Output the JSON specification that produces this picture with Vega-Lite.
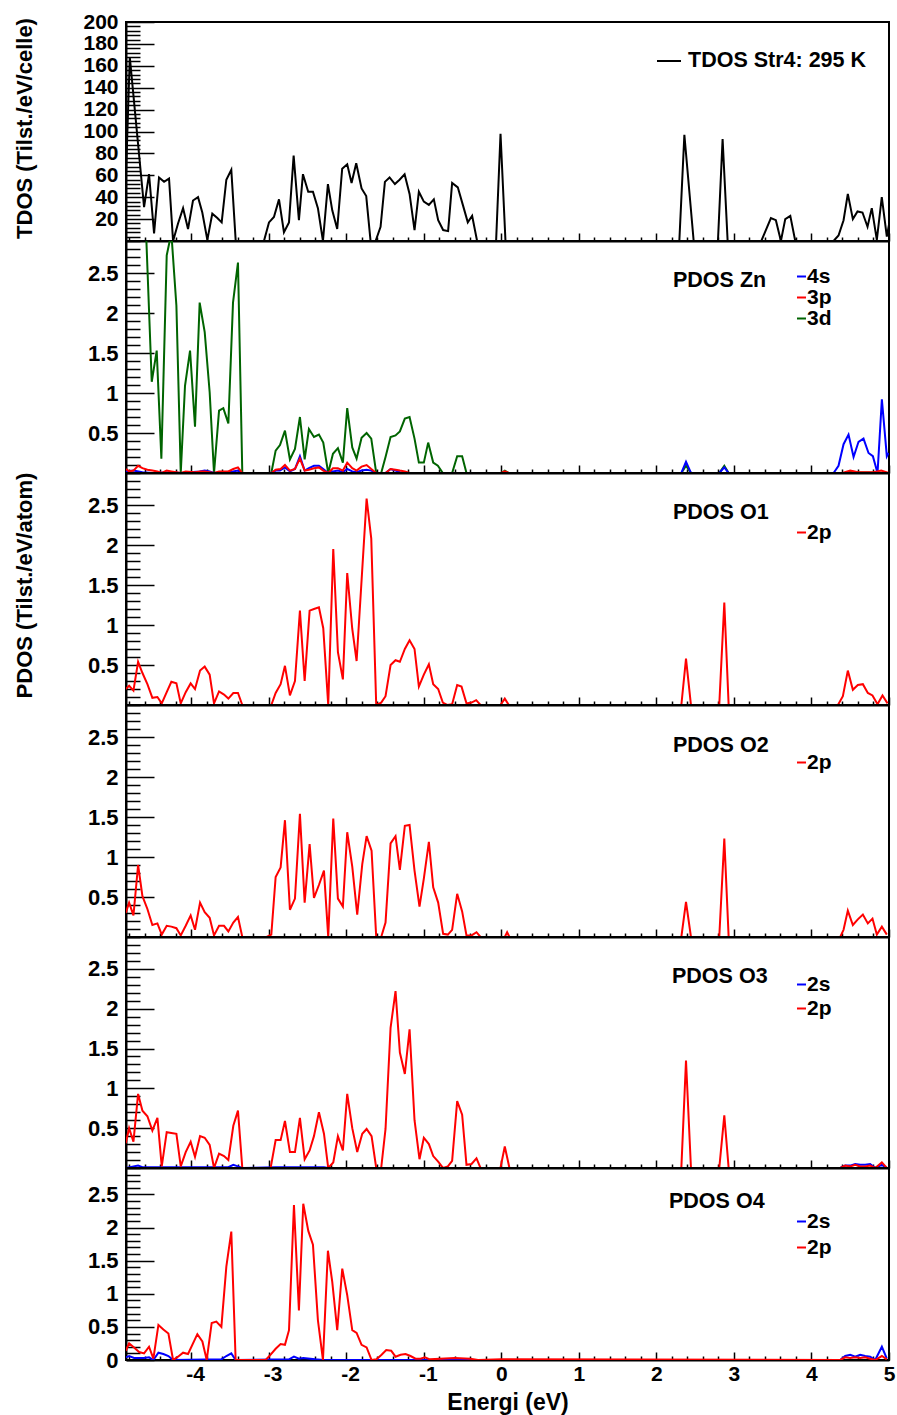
{
"$schema": "https://vega.github.io/schema/vega-lite/v6.json",
"padding": {"left": 11, "top": 10, "right": 5, "bottom": 2},
"background": "white",
"datasets": {
"tdos": [
{"o":"T","x":-4.84,"y":60},{"o":"T","x":-4.791,"y":168},{"o":"T","x":-4.607,"y":31},{"o":"T","x":-4.543,"y":61},{"o":"T","x":-4.478,"y":7},{"o":"T","x":-4.414,"y":58},{"o":"T","x":-4.349,"y":54},{"o":"T","x":-4.285,"y":57},{"o":"T","x":-4.233,"y":0},{"o":"T","x":-4.169,"y":16},{"o":"T","x":-4.104,"y":30},{"o":"T","x":-4.04,"y":11},{"o":"T","x":-3.976,"y":37},{"o":"T","x":-3.911,"y":40},{"o":"T","x":-3.856,"y":26},{"o":"T","x":-3.791,"y":1},{"o":"T","x":-3.727,"y":25},{"o":"T","x":-3.662,"y":21},{"o":"T","x":-3.606,"y":17},{"o":"T","x":-3.546,"y":56},{"o":"T","x":-3.482,"y":65},{"o":"T","x":-3.425,"y":0},{"o":"T","x":-3.061,"y":0},{"o":"T","x":-2.996,"y":17},{"o":"T","x":-2.932,"y":22},{"o":"T","x":-2.867,"y":38},{"o":"T","x":-2.803,"y":8},{"o":"T","x":-2.738,"y":17},{"o":"T","x":-2.678,"y":78},{"o":"T","x":-2.61,"y":19},{"o":"T","x":-2.558,"y":61},{"o":"T","x":-2.49,"y":45},{"o":"T","x":-2.429,"y":45},{"o":"T","x":-2.365,"y":30},{"o":"T","x":-2.3,"y":0},{"o":"T","x":-2.236,"y":52},{"o":"T","x":-2.18,"y":28},{"o":"T","x":-2.116,"y":11},{"o":"T","x":-2.052,"y":66},{"o":"T","x":-1.987,"y":70},{"o":"T","x":-1.931,"y":53},{"o":"T","x":-1.871,"y":71},{"o":"T","x":-1.802,"y":48},{"o":"T","x":-1.742,"y":41},{"o":"T","x":-1.686,"y":0},{"o":"T","x":-1.621,"y":0},{"o":"T","x":-1.557,"y":13},{"o":"T","x":-1.501,"y":54},{"o":"T","x":-1.441,"y":58},{"o":"T","x":-1.372,"y":52},{"o":"T","x":-1.312,"y":56},{"o":"T","x":-1.247,"y":61},{"o":"T","x":-1.183,"y":43},{"o":"T","x":-1.119,"y":10},{"o":"T","x":-1.063,"y":45},{"o":"T","x":-0.999,"y":36},{"o":"T","x":-0.934,"y":33},{"o":"T","x":-0.87,"y":38},{"o":"T","x":-0.814,"y":19},{"o":"T","x":-0.75,"y":10},{"o":"T","x":-0.686,"y":9},{"o":"T","x":-0.634,"y":53},{"o":"T","x":-0.561,"y":49},{"o":"T","x":-0.496,"y":33},{"o":"T","x":-0.432,"y":17},{"o":"T","x":-0.376,"y":23},{"o":"T","x":-0.312,"y":0},{"o":"T","x":-0.067,"y":0},{"o":"T","x":-0.01,"y":98},{"o":"T","x":0.054,"y":0},{"o":"T","x":2.296,"y":0},{"o":"T","x":2.361,"y":97},{"o":"T","x":2.481,"y":0},{"o":"T","x":2.794,"y":0},{"o":"T","x":2.854,"y":93},{"o":"T","x":2.919,"y":0},{"o":"T","x":3.353,"y":0},{"o":"T","x":3.477,"y":21},{"o":"T","x":3.541,"y":19},{"o":"T","x":3.606,"y":0},{"o":"T","x":3.662,"y":20},{"o":"T","x":3.727,"y":23},{"o":"T","x":3.791,"y":0},{"o":"T","x":4.285,"y":0},{"o":"T","x":4.349,"y":5},{"o":"T","x":4.414,"y":19},{"o":"T","x":4.469,"y":43},{"o":"T","x":4.534,"y":20},{"o":"T","x":4.594,"y":27},{"o":"T","x":4.658,"y":26},{"o":"T","x":4.723,"y":13},{"o":"T","x":4.778,"y":30},{"o":"T","x":4.843,"y":1},{"o":"T","x":4.907,"y":40},{"o":"T","x":4.972,"y":4},{"o":"T","x":5.0,"y":15}
],
"zn": [
{"o":"3d","x":-4.84,"y":4},{"o":"3d","x":-4.62,"y":4},{"o":"3d","x":-4.508,"y":1.14},{"o":"3d","x":-4.444,"y":1.53},{"o":"3d","x":-4.384,"y":0.18},{"o":"3d","x":-4.315,"y":2.72},{"o":"3d","x":-4.255,"y":3.0},{"o":"3d","x":-4.19,"y":2.09},{"o":"3d","x":-4.134,"y":0},{"o":"3d","x":-4.079,"y":1.09},{"o":"3d","x":-4.014,"y":1.53},{"o":"3d","x":-3.95,"y":0.58},{"o":"3d","x":-3.89,"y":2.13},{"o":"3d","x":-3.825,"y":1.76},{"o":"3d","x":-3.761,"y":1.01},{"o":"3d","x":-3.705,"y":0},{"o":"3d","x":-3.64,"y":0.78},{"o":"3d","x":-3.585,"y":0.81},{"o":"3d","x":-3.52,"y":0.62},{"o":"3d","x":-3.46,"y":2.13},{"o":"3d","x":-3.396,"y":2.63},{"o":"3d","x":-3.34,"y":0},{"o":"3d","x":-2.966,"y":0},{"o":"3d","x":-2.91,"y":0.28},{"o":"3d","x":-2.854,"y":0.35},{"o":"3d","x":-2.79,"y":0.53},{"o":"3d","x":-2.726,"y":0.17},{"o":"3d","x":-2.661,"y":0.3},{"o":"3d","x":-2.597,"y":0.7},{"o":"3d","x":-2.536,"y":0.17},{"o":"3d","x":-2.481,"y":0.55},{"o":"3d","x":-2.416,"y":0.45},{"o":"3d","x":-2.352,"y":0.48},{"o":"3d","x":-2.296,"y":0.38},{"o":"3d","x":-2.232,"y":0},{"o":"3d","x":-2.171,"y":0.24},{"o":"3d","x":-2.107,"y":0.31},{"o":"3d","x":-2.043,"y":0.13},{"o":"3d","x":-1.987,"y":0.81},{"o":"3d","x":-1.922,"y":0.32},{"o":"3d","x":-1.866,"y":0.18},{"o":"3d","x":-1.802,"y":0.44},{"o":"3d","x":-1.737,"y":0.5},{"o":"3d","x":-1.677,"y":0.43},{"o":"3d","x":-1.613,"y":0},{"o":"3d","x":-1.549,"y":0},{"o":"3d","x":-1.493,"y":0.2},{"o":"3d","x":-1.428,"y":0.45},{"o":"3d","x":-1.364,"y":0.47},{"o":"3d","x":-1.308,"y":0.52},{"o":"3d","x":-1.244,"y":0.68},{"o":"3d","x":-1.183,"y":0.7},{"o":"3d","x":-1.119,"y":0.43},{"o":"3d","x":-1.063,"y":0.13},{"o":"3d","x":-0.999,"y":0.13},{"o":"3d","x":-0.943,"y":0.38},{"o":"3d","x":-0.878,"y":0.13},{"o":"3d","x":-0.818,"y":0.09},{"o":"3d","x":-0.754,"y":0},{"o":"3d","x":-0.634,"y":0},{"o":"3d","x":-0.569,"y":0.21},{"o":"3d","x":-0.505,"y":0.21},{"o":"3d","x":-0.449,"y":0},{"o":"3d","x":0.0,"y":0},{"o":"3d","x":0.045,"y":0.03},{"o":"3d","x":0.097,"y":0},{"o":"3d","x":2.322,"y":0},{"o":"3d","x":2.382,"y":0.09},{"o":"3d","x":2.446,"y":0},{"o":"3d","x":2.811,"y":0},{"o":"3d","x":2.876,"y":0.09},{"o":"3d","x":2.932,"y":0},{"o":"3d","x":4.435,"y":0},{"o":"3d","x":4.5,"y":0.02},{"o":"3d","x":4.6,"y":0.01},{"o":"3d","x":5.0,"y":0},
{"o":"4s","x":-4.84,"y":0.02},{"o":"4s","x":-4.744,"y":0.03},{"o":"4s","x":-4.628,"y":0.01},{"o":"4s","x":-4.5,"y":0},{"o":"4s","x":-4.255,"y":0.01},{"o":"4s","x":-4.134,"y":0},{"o":"4s","x":-3.89,"y":0.02},{"o":"4s","x":-3.825,"y":0.03},{"o":"4s","x":-3.761,"y":0.02},{"o":"4s","x":-3.705,"y":0},{"o":"4s","x":-3.46,"y":0.02},{"o":"4s","x":-3.396,"y":0.03},{"o":"4s","x":-3.34,"y":0},{"o":"4s","x":-2.966,"y":0},{"o":"4s","x":-2.91,"y":0.03},{"o":"4s","x":-2.854,"y":0.03},{"o":"4s","x":-2.79,"y":0.07},{"o":"4s","x":-2.726,"y":0.02},{"o":"4s","x":-2.661,"y":0.05},{"o":"4s","x":-2.597,"y":0.21},{"o":"4s","x":-2.536,"y":0.03},{"o":"4s","x":-2.481,"y":0.06},{"o":"4s","x":-2.416,"y":0.09},{"o":"4s","x":-2.352,"y":0.09},{"o":"4s","x":-2.296,"y":0.05},{"o":"4s","x":-2.232,"y":0},{"o":"4s","x":-2.171,"y":0.02},{"o":"4s","x":-2.107,"y":0.03},{"o":"4s","x":-2.043,"y":0.01},{"o":"4s","x":-1.987,"y":0.05},{"o":"4s","x":-1.922,"y":0.02},{"o":"4s","x":-1.866,"y":0.01},{"o":"4s","x":-1.802,"y":0.03},{"o":"4s","x":-1.737,"y":0.04},{"o":"4s","x":-1.677,"y":0.03},{"o":"4s","x":-1.613,"y":0},{"o":"4s","x":-1.493,"y":0},{"o":"4s","x":-1.428,"y":0.05},{"o":"4s","x":-1.364,"y":0.03},{"o":"4s","x":-1.308,"y":0.01},{"o":"4s","x":-1.244,"y":0},{"o":"4s","x":2.322,"y":0},{"o":"4s","x":2.382,"y":0.14},{"o":"4s","x":2.446,"y":0},{"o":"4s","x":2.811,"y":0},{"o":"4s","x":2.876,"y":0.07},{"o":"4s","x":2.932,"y":0},{"o":"4s","x":4.285,"y":0},{"o":"4s","x":4.349,"y":0.09},{"o":"4s","x":4.414,"y":0.36},{"o":"4s","x":4.478,"y":0.48},{"o":"4s","x":4.543,"y":0.2},{"o":"4s","x":4.607,"y":0.39},{"o":"4s","x":4.671,"y":0.43},{"o":"4s","x":4.736,"y":0.25},{"o":"4s","x":4.792,"y":0.21},{"o":"4s","x":4.852,"y":0},{"o":"4s","x":4.908,"y":0.92},{"o":"4s","x":4.972,"y":0.21},{"o":"4s","x":4.994,"y":0.25},
{"o":"3p","x":-4.84,"y":0.05},{"o":"3p","x":-4.8,"y":0.02},{"o":"3p","x":-4.744,"y":0.03},{"o":"3p","x":-4.684,"y":0.09},{"o":"3p","x":-4.628,"y":0.06},{"o":"3p","x":-4.564,"y":0.04},{"o":"3p","x":-4.5,"y":0.03},{"o":"3p","x":-4.435,"y":0.02},{"o":"3p","x":-4.379,"y":0},{"o":"3p","x":-4.315,"y":0.03},{"o":"3p","x":-4.255,"y":0.02},{"o":"3p","x":-4.19,"y":0.01},{"o":"3p","x":-4.134,"y":0},{"o":"3p","x":-4.07,"y":0.02},{"o":"3p","x":-3.95,"y":0.01},{"o":"3p","x":-3.885,"y":0.02},{"o":"3p","x":-3.825,"y":0.02},{"o":"3p","x":-3.761,"y":0.01},{"o":"3p","x":-3.705,"y":0},{"o":"3p","x":-3.64,"y":0.02},{"o":"3p","x":-3.576,"y":0.02},{"o":"3p","x":-3.52,"y":0.02},{"o":"3p","x":-3.456,"y":0.05},{"o":"3p","x":-3.396,"y":0.07},{"o":"3p","x":-3.34,"y":0},{"o":"3p","x":-2.966,"y":0},{"o":"3p","x":-2.91,"y":0.04},{"o":"3p","x":-2.846,"y":0.05},{"o":"3p","x":-2.79,"y":0.1},{"o":"3p","x":-2.726,"y":0.03},{"o":"3p","x":-2.661,"y":0.05},{"o":"3p","x":-2.597,"y":0.18},{"o":"3p","x":-2.536,"y":0.03},{"o":"3p","x":-2.481,"y":0.04},{"o":"3p","x":-2.416,"y":0.06},{"o":"3p","x":-2.352,"y":0.07},{"o":"3p","x":-2.296,"y":0.03},{"o":"3p","x":-2.232,"y":0},{"o":"3p","x":-2.171,"y":0.06},{"o":"3p","x":-2.107,"y":0.06},{"o":"3p","x":-2.043,"y":0.03},{"o":"3p","x":-1.987,"y":0.13},{"o":"3p","x":-1.922,"y":0.06},{"o":"3p","x":-1.866,"y":0.03},{"o":"3p","x":-1.802,"y":0.08},{"o":"3p","x":-1.737,"y":0.1},{"o":"3p","x":-1.677,"y":0.05},{"o":"3p","x":-1.613,"y":0},{"o":"3p","x":-1.493,"y":0},{"o":"3p","x":-1.428,"y":0.05},{"o":"3p","x":-1.364,"y":0.04},{"o":"3p","x":-1.308,"y":0.03},{"o":"3p","x":-1.244,"y":0.02},{"o":"3p","x":-1.183,"y":0},{"o":"3p","x":0.0,"y":0},{"o":"3p","x":0.045,"y":0.02},{"o":"3p","x":0.097,"y":0},{"o":"3p","x":4.4,"y":0},{"o":"3p","x":4.5,"y":0.03},{"o":"3p","x":4.6,"y":0.01},{"o":"3p","x":4.8,"y":0.01},{"o":"3p","x":4.9,"y":0.03},{"o":"3p","x":5.0,"y":0}
],
"o1": [
{"o":"2p","x":-4.843,"y":0.2},{"o":"2p","x":-4.8,"y":0.24},{"o":"2p","x":-4.744,"y":0.18},{"o":"2p","x":-4.684,"y":0.54},{"o":"2p","x":-4.628,"y":0.4},{"o":"2p","x":-4.564,"y":0.26},{"o":"2p","x":-4.5,"y":0.09},{"o":"2p","x":-4.435,"y":0.1},{"o":"2p","x":-4.379,"y":0.02},{"o":"2p","x":-4.315,"y":0.16},{"o":"2p","x":-4.255,"y":0.29},{"o":"2p","x":-4.19,"y":0.27},{"o":"2p","x":-4.134,"y":0.02},{"o":"2p","x":-4.07,"y":0.16},{"o":"2p","x":-4.006,"y":0.27},{"o":"2p","x":-3.95,"y":0.2},{"o":"2p","x":-3.885,"y":0.43},{"o":"2p","x":-3.825,"y":0.48},{"o":"2p","x":-3.761,"y":0.38},{"o":"2p","x":-3.705,"y":0.02},{"o":"2p","x":-3.64,"y":0.17},{"o":"2p","x":-3.576,"y":0.13},{"o":"2p","x":-3.52,"y":0.08},{"o":"2p","x":-3.456,"y":0.15},{"o":"2p","x":-3.396,"y":0.15},{"o":"2p","x":-3.34,"y":0},{"o":"2p","x":-2.966,"y":0},{"o":"2p","x":-2.91,"y":0.15},{"o":"2p","x":-2.846,"y":0.26},{"o":"2p","x":-2.79,"y":0.49},{"o":"2p","x":-2.726,"y":0.12},{"o":"2p","x":-2.661,"y":0.3},{"o":"2p","x":-2.597,"y":1.18},{"o":"2p","x":-2.536,"y":0.3},{"o":"2p","x":-2.472,"y":1.18},{"o":"2p","x":-2.416,"y":1.2},{"o":"2p","x":-2.352,"y":1.22},{"o":"2p","x":-2.296,"y":0.96},{"o":"2p","x":-2.232,"y":0},{"o":"2p","x":-2.167,"y":1.95},{"o":"2p","x":-2.107,"y":0.66},{"o":"2p","x":-2.043,"y":0.32},{"o":"2p","x":-1.987,"y":1.65},{"o":"2p","x":-1.922,"y":0.95},{"o":"2p","x":-1.866,"y":0.55},{"o":"2p","x":-1.737,"y":2.58},{"o":"2p","x":-1.677,"y":2.08},{"o":"2p","x":-1.613,"y":0},{"o":"2p","x":-1.549,"y":0.03},{"o":"2p","x":-1.493,"y":0.11},{"o":"2p","x":-1.428,"y":0.5},{"o":"2p","x":-1.364,"y":0.56},{"o":"2p","x":-1.308,"y":0.54},{"o":"2p","x":-1.244,"y":0.7},{"o":"2p","x":-1.183,"y":0.81},{"o":"2p","x":-1.119,"y":0.7},{"o":"2p","x":-1.063,"y":0.23},{"o":"2p","x":-0.999,"y":0.38},{"o":"2p","x":-0.934,"y":0.51},{"o":"2p","x":-0.878,"y":0.26},{"o":"2p","x":-0.814,"y":0.2},{"o":"2p","x":-0.754,"y":0.03},{"o":"2p","x":-0.698,"y":0},{"o":"2p","x":-0.634,"y":0.01},{"o":"2p","x":-0.569,"y":0.25},{"o":"2p","x":-0.513,"y":0.23},{"o":"2p","x":-0.449,"y":0.02},{"o":"2p","x":-0.384,"y":0.03},{"o":"2p","x":-0.324,"y":0.06},{"o":"2p","x":-0.268,"y":0},{"o":"2p","x":-0.011,"y":0},{"o":"2p","x":0.045,"y":0.08},{"o":"2p","x":0.097,"y":0},{"o":"2p","x":2.322,"y":0},{"o":"2p","x":2.382,"y":0.58},{"o":"2p","x":2.446,"y":0},{"o":"2p","x":2.811,"y":0},{"o":"2p","x":2.876,"y":1.28},{"o":"2p","x":2.932,"y":0},{"o":"2p","x":4.341,"y":0},{"o":"2p","x":4.405,"y":0.11},{"o":"2p","x":4.469,"y":0.43},{"o":"2p","x":4.534,"y":0.19},{"o":"2p","x":4.598,"y":0.25},{"o":"2p","x":4.663,"y":0.26},{"o":"2p","x":4.727,"y":0.15},{"o":"2p","x":4.787,"y":0.12},{"o":"2p","x":4.852,"y":0.01},{"o":"2p","x":4.916,"y":0.12},{"o":"2p","x":4.981,"y":0.02}
],
"o2": [
{"o":"2p","x":-4.843,"y":0.3},{"o":"2p","x":-4.8,"y":0.43},{"o":"2p","x":-4.744,"y":0.27},{"o":"2p","x":-4.684,"y":0.9},{"o":"2p","x":-4.628,"y":0.51},{"o":"2p","x":-4.564,"y":0.35},{"o":"2p","x":-4.5,"y":0.15},{"o":"2p","x":-4.435,"y":0.17},{"o":"2p","x":-4.379,"y":0.03},{"o":"2p","x":-4.315,"y":0.14},{"o":"2p","x":-4.255,"y":0.13},{"o":"2p","x":-4.19,"y":0.11},{"o":"2p","x":-4.134,"y":0.02},{"o":"2p","x":-4.07,"y":0.14},{"o":"2p","x":-4.006,"y":0.27},{"o":"2p","x":-3.95,"y":0.09},{"o":"2p","x":-3.885,"y":0.43},{"o":"2p","x":-3.825,"y":0.31},{"o":"2p","x":-3.761,"y":0.24},{"o":"2p","x":-3.705,"y":0.02},{"o":"2p","x":-3.64,"y":0.14},{"o":"2p","x":-3.576,"y":0.14},{"o":"2p","x":-3.52,"y":0.07},{"o":"2p","x":-3.456,"y":0.18},{"o":"2p","x":-3.396,"y":0.25},{"o":"2p","x":-3.34,"y":0},{"o":"2p","x":-3.026,"y":0},{"o":"2p","x":-2.966,"y":0.03},{"o":"2p","x":-2.91,"y":0.75},{"o":"2p","x":-2.846,"y":0.87},{"o":"2p","x":-2.79,"y":1.46},{"o":"2p","x":-2.726,"y":0.34},{"o":"2p","x":-2.661,"y":0.48},{"o":"2p","x":-2.597,"y":1.54},{"o":"2p","x":-2.536,"y":0.43},{"o":"2p","x":-2.472,"y":1.16},{"o":"2p","x":-2.416,"y":0.49},{"o":"2p","x":-2.352,"y":0.65},{"o":"2p","x":-2.287,"y":0.83},{"o":"2p","x":-2.232,"y":0},{"o":"2p","x":-2.167,"y":1.48},{"o":"2p","x":-2.107,"y":0.48},{"o":"2p","x":-2.043,"y":0.38},{"o":"2p","x":-1.987,"y":1.31},{"o":"2p","x":-1.922,"y":0.88},{"o":"2p","x":-1.858,"y":0.28},{"o":"2p","x":-1.793,"y":0.91},{"o":"2p","x":-1.737,"y":1.26},{"o":"2p","x":-1.673,"y":1.08},{"o":"2p","x":-1.613,"y":0},{"o":"2p","x":-1.549,"y":0},{"o":"2p","x":-1.493,"y":0.18},{"o":"2p","x":-1.428,"y":1.17},{"o":"2p","x":-1.364,"y":1.26},{"o":"2p","x":-1.308,"y":0.84},{"o":"2p","x":-1.244,"y":1.39},{"o":"2p","x":-1.183,"y":1.4},{"o":"2p","x":-1.119,"y":0.83},{"o":"2p","x":-1.055,"y":0.38},{"o":"2p","x":-0.999,"y":0.73},{"o":"2p","x":-0.934,"y":1.19},{"o":"2p","x":-0.878,"y":0.62},{"o":"2p","x":-0.814,"y":0.43},{"o":"2p","x":-0.75,"y":0.04},{"o":"2p","x":-0.689,"y":0.03},{"o":"2p","x":-0.634,"y":0.09},{"o":"2p","x":-0.569,"y":0.54},{"o":"2p","x":-0.505,"y":0.32},{"o":"2p","x":-0.449,"y":0.02},{"o":"2p","x":-0.384,"y":0.02},{"o":"2p","x":-0.32,"y":0.06},{"o":"2p","x":-0.268,"y":0},{"o":"2p","x":0.045,"y":0},{"o":"2p","x":0.075,"y":0.06},{"o":"2p","x":0.105,"y":0},{"o":"2p","x":2.322,"y":0},{"o":"2p","x":2.382,"y":0.44},{"o":"2p","x":2.446,"y":0},{"o":"2p","x":2.811,"y":0},{"o":"2p","x":2.876,"y":1.23},{"o":"2p","x":2.932,"y":0},{"o":"2p","x":4.371,"y":0},{"o":"2p","x":4.414,"y":0.09},{"o":"2p","x":4.469,"y":0.33},{"o":"2p","x":4.534,"y":0.15},{"o":"2p","x":4.598,"y":0.22},{"o":"2p","x":4.663,"y":0.28},{"o":"2p","x":4.727,"y":0.17},{"o":"2p","x":4.787,"y":0.23},{"o":"2p","x":4.843,"y":0.03},{"o":"2p","x":4.908,"y":0.13},{"o":"2p","x":4.972,"y":0.03}
],
"o3": [
{"o":"2s","x":-4.843,"y":0},{"o":"2s","x":-4.684,"y":0.03},{"o":"2s","x":-4.628,"y":0.01},{"o":"2s","x":-4.315,"y":0.01},{"o":"2s","x":-3.52,"y":0.01},{"o":"2s","x":-3.456,"y":0.04},{"o":"2s","x":-3.396,"y":0.02},{"o":"2s","x":-3.34,"y":0},{"o":"2s","x":-2.91,"y":0.01},{"o":"2s","x":-2.352,"y":0.01},{"o":"2s","x":-2.287,"y":0.01},{"o":"2s","x":-2.232,"y":0},{"o":"2s","x":4.371,"y":0},{"o":"2s","x":4.435,"y":0.03},{"o":"2s","x":4.5,"y":0.03},{"o":"2s","x":4.564,"y":0.05},{"o":"2s","x":4.628,"y":0.04},{"o":"2s","x":4.693,"y":0.04},{"o":"2s","x":4.757,"y":0.05},{"o":"2s","x":4.822,"y":0},{"o":"2s","x":4.908,"y":0.04},{"o":"2s","x":4.972,"y":0},
{"o":"2p","x":-4.843,"y":0.31},{"o":"2p","x":-4.8,"y":0.5},{"o":"2p","x":-4.744,"y":0.33},{"o":"2p","x":-4.684,"y":0.93},{"o":"2p","x":-4.628,"y":0.72},{"o":"2p","x":-4.564,"y":0.65},{"o":"2p","x":-4.5,"y":0.47},{"o":"2p","x":-4.435,"y":0.63},{"o":"2p","x":-4.379,"y":0.02},{"o":"2p","x":-4.315,"y":0.45},{"o":"2p","x":-4.255,"y":0.44},{"o":"2p","x":-4.19,"y":0.43},{"o":"2p","x":-4.134,"y":0.02},{"o":"2p","x":-4.07,"y":0.2},{"o":"2p","x":-4.006,"y":0.33},{"o":"2p","x":-3.95,"y":0.14},{"o":"2p","x":-3.885,"y":0.4},{"o":"2p","x":-3.825,"y":0.38},{"o":"2p","x":-3.761,"y":0.29},{"o":"2p","x":-3.705,"y":0},{"o":"2p","x":-3.64,"y":0.18},{"o":"2p","x":-3.576,"y":0.15},{"o":"2p","x":-3.52,"y":0.1},{"o":"2p","x":-3.456,"y":0.53},{"o":"2p","x":-3.396,"y":0.72},{"o":"2p","x":-3.34,"y":0},{"o":"2p","x":-2.975,"y":0},{"o":"2p","x":-2.91,"y":0.35},{"o":"2p","x":-2.846,"y":0.35},{"o":"2p","x":-2.79,"y":0.59},{"o":"2p","x":-2.726,"y":0.2},{"o":"2p","x":-2.661,"y":0.2},{"o":"2p","x":-2.597,"y":0.63},{"o":"2p","x":-2.536,"y":0.11},{"o":"2p","x":-2.472,"y":0.22},{"o":"2p","x":-2.416,"y":0.4},{"o":"2p","x":-2.352,"y":0.7},{"o":"2p","x":-2.287,"y":0.43},{"o":"2p","x":-2.232,"y":0},{"o":"2p","x":-2.167,"y":0.07},{"o":"2p","x":-2.107,"y":0.4},{"o":"2p","x":-2.043,"y":0.22},{"o":"2p","x":-1.987,"y":0.93},{"o":"2p","x":-1.922,"y":0.5},{"o":"2p","x":-1.858,"y":0.2},{"o":"2p","x":-1.793,"y":0.43},{"o":"2p","x":-1.737,"y":0.49},{"o":"2p","x":-1.673,"y":0.4},{"o":"2p","x":-1.613,"y":0},{"o":"2p","x":-1.549,"y":0},{"o":"2p","x":-1.493,"y":0.49},{"o":"2p","x":-1.428,"y":1.76},{"o":"2p","x":-1.364,"y":2.22},{"o":"2p","x":-1.308,"y":1.45},{"o":"2p","x":-1.244,"y":1.18},{"o":"2p","x":-1.183,"y":1.74},{"o":"2p","x":-1.119,"y":0.6},{"o":"2p","x":-1.055,"y":0.11},{"o":"2p","x":-0.999,"y":0.38},{"o":"2p","x":-0.934,"y":0.3},{"o":"2p","x":-0.878,"y":0.15},{"o":"2p","x":-0.814,"y":0.08},{"o":"2p","x":-0.75,"y":0},{"o":"2p","x":-0.689,"y":0.02},{"o":"2p","x":-0.634,"y":0.09},{"o":"2p","x":-0.569,"y":0.84},{"o":"2p","x":-0.505,"y":0.67},{"o":"2p","x":-0.449,"y":0.04},{"o":"2p","x":-0.384,"y":0.05},{"o":"2p","x":-0.32,"y":0.12},{"o":"2p","x":-0.268,"y":0},{"o":"2p","x":-0.011,"y":0},{"o":"2p","x":0.045,"y":0.27},{"o":"2p","x":0.105,"y":0},{"o":"2p","x":2.322,"y":0},{"o":"2p","x":2.382,"y":1.35},{"o":"2p","x":2.446,"y":0},{"o":"2p","x":2.811,"y":0},{"o":"2p","x":2.876,"y":0.66},{"o":"2p","x":2.932,"y":0},{"o":"2p","x":4.371,"y":0},{"o":"2p","x":4.435,"y":0.03},{"o":"2p","x":4.5,"y":0.02},{"o":"2p","x":4.564,"y":0.04},{"o":"2p","x":4.628,"y":0.02},{"o":"2p","x":4.693,"y":0.02},{"o":"2p","x":4.757,"y":0.03},{"o":"2p","x":4.822,"y":0},{"o":"2p","x":4.908,"y":0.07},{"o":"2p","x":4.972,"y":0}
],
"o4": [
{"o":"2s","x":-4.843,"y":0.04},{"o":"2s","x":-4.8,"y":0.06},{"o":"2s","x":-4.736,"y":0.03},{"o":"2s","x":-4.607,"y":0.03},{"o":"2s","x":-4.543,"y":0.04},{"o":"2s","x":-4.487,"y":0},{"o":"2s","x":-4.422,"y":0.11},{"o":"2s","x":-4.358,"y":0.09},{"o":"2s","x":-4.293,"y":0.06},{"o":"2s","x":-4.233,"y":0},{"o":"2s","x":-3.61,"y":0.01},{"o":"2s","x":-3.546,"y":0.06},{"o":"2s","x":-3.482,"y":0.1},{"o":"2s","x":-3.426,"y":0},{"o":"2s","x":-2.738,"y":0.01},{"o":"2s","x":-2.674,"y":0.05},{"o":"2s","x":-2.61,"y":0.02},{"o":"2s","x":-2.554,"y":0.03},{"o":"2s","x":-2.4,"y":0.01},{"o":"2s","x":-2.3,"y":0},{"o":"2s","x":4.371,"y":0},{"o":"2s","x":4.435,"y":0.06},{"o":"2s","x":4.5,"y":0.08},{"o":"2s","x":4.564,"y":0.05},{"o":"2s","x":4.628,"y":0.08},{"o":"2s","x":4.693,"y":0.06},{"o":"2s","x":4.757,"y":0.05},{"o":"2s","x":4.822,"y":0},{"o":"2s","x":4.908,"y":0.2},{"o":"2s","x":4.972,"y":0.02},
{"o":"2p","x":-4.843,"y":0.14},{"o":"2p","x":-4.8,"y":0.25},{"o":"2p","x":-4.736,"y":0.19},{"o":"2p","x":-4.671,"y":0.12},{"o":"2p","x":-4.607,"y":0.1},{"o":"2p","x":-4.543,"y":0.2},{"o":"2p","x":-4.487,"y":0.02},{"o":"2p","x":-4.422,"y":0.53},{"o":"2p","x":-4.358,"y":0.46},{"o":"2p","x":-4.293,"y":0.4},{"o":"2p","x":-4.233,"y":0},{"o":"2p","x":-4.169,"y":0.05},{"o":"2p","x":-4.104,"y":0.11},{"o":"2p","x":-4.04,"y":0.09},{"o":"2p","x":-3.92,"y":0.39},{"o":"2p","x":-3.855,"y":0.28},{"o":"2p","x":-3.799,"y":0},{"o":"2p","x":-3.735,"y":0.56},{"o":"2p","x":-3.675,"y":0.58},{"o":"2p","x":-3.61,"y":0.5},{"o":"2p","x":-3.546,"y":1.41},{"o":"2p","x":-3.482,"y":1.94},{"o":"2p","x":-3.426,"y":0},{"o":"2p","x":-3.039,"y":0},{"o":"2p","x":-2.975,"y":0.08},{"o":"2p","x":-2.91,"y":0.17},{"o":"2p","x":-2.846,"y":0.24},{"o":"2p","x":-2.79,"y":0.23},{"o":"2p","x":-2.738,"y":0.45},{"o":"2p","x":-2.674,"y":2.34},{"o":"2p","x":-2.61,"y":0.75},{"o":"2p","x":-2.554,"y":2.36},{"o":"2p","x":-2.489,"y":1.95},{"o":"2p","x":-2.429,"y":1.74},{"o":"2p","x":-2.365,"y":0.6},{"o":"2p","x":-2.3,"y":0},{"o":"2p","x":-2.236,"y":1.65},{"o":"2p","x":-2.18,"y":1.18},{"o":"2p","x":-2.116,"y":0.45},{"o":"2p","x":-2.051,"y":1.38},{"o":"2p","x":-1.987,"y":0.98},{"o":"2p","x":-1.922,"y":0.45},{"o":"2p","x":-1.866,"y":0.41},{"o":"2p","x":-1.802,"y":0.23},{"o":"2p","x":-1.737,"y":0.19},{"o":"2p","x":-1.673,"y":0},{"o":"2p","x":-1.609,"y":0.01},{"o":"2p","x":-1.544,"y":0.08},{"o":"2p","x":-1.484,"y":0.15},{"o":"2p","x":-1.42,"y":0.14},{"o":"2p","x":-1.364,"y":0.05},{"o":"2p","x":-1.299,"y":0.08},{"o":"2p","x":-1.235,"y":0.09},{"o":"2p","x":-1.171,"y":0.06},{"o":"2p","x":-1.106,"y":0.02},{"o":"2p","x":-1.042,"y":0.02},{"o":"2p","x":-0.986,"y":0.04},{"o":"2p","x":-0.921,"y":0.01},{"o":"2p","x":-0.6,"y":0.03},{"o":"2p","x":-0.4,"y":0.02},{"o":"2p","x":-0.3,"y":0},{"o":"2p","x":0.0,"y":0.01},{"o":"2p","x":4.371,"y":0},{"o":"2p","x":4.435,"y":0.04},{"o":"2p","x":4.5,"y":0.03},{"o":"2p","x":4.564,"y":0.04},{"o":"2p","x":4.628,"y":0.03},{"o":"2p","x":4.693,"y":0.04},{"o":"2p","x":4.757,"y":0.02},{"o":"2p","x":4.822,"y":0},{"o":"2p","x":4.908,"y":0.06},{"o":"2p","x":4.972,"y":0.01}
]
},
"vconcat": [
{
"width": 763, "height": 219,
"data": {"name": "tdos"},
"mark": {"type": "line", "strokeWidth": 2, "clip": true},
"encoding": {
"x": {"field": "x", "type": "quantitative", "scale": {"domain": [-4.84, 5], "nice": false, "zero": false},
 "axis": {"values": [-4.8,-4.6,-4.4,-4.2,-4,-3.8,-3.6,-3.4,-3.2,-3,-2.8,-2.6,-2.4,-2.2,-2,-1.8,-1.6,-1.4,-1.2,-1,-0.8,-0.6,-0.4,-0.2,0,0.2,0.4,0.6,0.8,1,1.2,1.4,1.6,1.8,2,2.2,2.4,2.6,2.8,3,3.2,3.4,3.6,3.8,4,4.2,4.4,4.6,4.8,5], "labels": false, "title": null,
  "tickSize": {"condition": {"test": "abs(datum.value - round(datum.value)) < 0.001", "value": -8}, "value": -4}}},
"y": {"field": "y", "type": "quantitative", "scale": {"domain": [0, 200], "nice": false},
 "axis": {"values": [4,8,12,16,20,24,28,32,36,40,44,48,52,56,60,64,68,72,76,80,84,88,92,96,100,104,108,112,116,120,124,128,132,136,140,144,148,152,156,160,164,168,172,176,180,184,188,192,196,200],
  "tickSize": {"condition": {"test": "datum.value % 20 == 0", "value": -28}, "value": -14},
  "labelPadding": 36, "labelFontSize": 21,
  "labelExpr": "datum.value % 20 == 0 ? '' + datum.value : ''",
  "title": "TDOS (Tilst./eV/celle)", "titleFontSize": 22, "titleX": -102, "titleY": 106, "titleAngle": -90, "titleBaseline": "middle", "titleAlign": "center"}},
"color": {"field": "o", "type": "nominal", "scale": {"domain": ["T"], "range": ["#000000"]},
 "legend": {"title": null, "orient": "none", "legendX": 530, "legendY": 26, "symbolSize": 576, "labelOffset": 6, "labelFontSize": 21.5, "labelExpr": "'TDOS Str4: 295 K'"}}
}
},
{
"width": 763, "height": 232,
"data": {"name": "zn"},
"title": {"text": "PDOS Zn", "anchor": "start", "frame": "group", "orient": "top", "offset": -31, "dx": 547, "dy": 41, "baseline": "middle"},
"mark": {"type": "line", "strokeWidth": 2, "clip": true},
"encoding": {
"x": {"field": "x", "type": "quantitative", "scale": {"domain": [-4.84, 5], "nice": false, "zero": false},
 "axis": {"values": [-4.8,-4.6,-4.4,-4.2,-4,-3.8,-3.6,-3.4,-3.2,-3,-2.8,-2.6,-2.4,-2.2,-2,-1.8,-1.6,-1.4,-1.2,-1,-0.8,-0.6,-0.4,-0.2,0,0.2,0.4,0.6,0.8,1,1.2,1.4,1.6,1.8,2,2.2,2.4,2.6,2.8,3,3.2,3.4,3.6,3.8,4,4.2,4.4,4.6,4.8,5], "labels": false, "title": null,
  "tickSize": {"condition": {"test": "abs(datum.value - round(datum.value)) < 0.001", "value": -8}, "value": -4}}},
"y": {"field": "y", "type": "quantitative", "scale": {"domain": [0, 2.9], "nice": false},
 "axis": {"values": [0.1,0.2,0.3,0.4,0.5,0.6,0.7,0.8,0.9,1,1.1,1.2,1.3,1.4,1.5,1.6,1.7,1.8,1.9,2,2.1,2.2,2.3,2.4,2.5,2.6,2.7,2.8,2.9],
  "tickSize": {"condition": {"test": "abs(datum.value*2 - round(datum.value*2)) < 0.001", "value": -28}, "value": -14},
  "labelPadding": 36, "labelFontSize": 22,
  "labelExpr": "abs(datum.value*2 - round(datum.value*2)) < 0.001 ? '' + datum.value : ''",
  "title": null}},
"color": {"field": "o", "type": "nominal", "scale": {"domain": ["4s","3p","3d"], "range": ["#0000ff","#ff0000","#006400"]},
 "legend": {"title": null, "orient": "none", "legendX": 665, "legendY": 25, "symbolSize": 81, "labelOffset": -5, "rowPadding": -4}}
}
},
{
"width": 763, "height": 232,
"data": {"name": "o1"},
"title": {"text": "PDOS O1", "anchor": "start", "frame": "group", "orient": "top", "offset": -31, "dx": 547, "dy": 41, "baseline": "middle"},
"mark": {"type": "line", "strokeWidth": 2, "clip": true},
"encoding": {
"x": {"field": "x", "type": "quantitative", "scale": {"domain": [-4.84, 5], "nice": false, "zero": false},
 "axis": {"values": [-4.8,-4.6,-4.4,-4.2,-4,-3.8,-3.6,-3.4,-3.2,-3,-2.8,-2.6,-2.4,-2.2,-2,-1.8,-1.6,-1.4,-1.2,-1,-0.8,-0.6,-0.4,-0.2,0,0.2,0.4,0.6,0.8,1,1.2,1.4,1.6,1.8,2,2.2,2.4,2.6,2.8,3,3.2,3.4,3.6,3.8,4,4.2,4.4,4.6,4.8,5], "labels": false, "title": null,
  "tickSize": {"condition": {"test": "abs(datum.value - round(datum.value)) < 0.001", "value": -8}, "value": -4}}},
"y": {"field": "y", "type": "quantitative", "scale": {"domain": [0, 2.9], "nice": false},
 "axis": {"values": [0.1,0.2,0.3,0.4,0.5,0.6,0.7,0.8,0.9,1,1.1,1.2,1.3,1.4,1.5,1.6,1.7,1.8,1.9,2,2.1,2.2,2.3,2.4,2.5,2.6,2.7,2.8,2.9],
  "tickSize": {"condition": {"test": "abs(datum.value*2 - round(datum.value*2)) < 0.001", "value": -28}, "value": -14},
  "labelPadding": 36, "labelFontSize": 22,
  "labelExpr": "abs(datum.value*2 - round(datum.value*2)) < 0.001 ? '' + datum.value : ''",
  "title": "PDOS (Tilst./eV/atom)", "titleFontSize": 22, "titleX": -102, "titleY": 112, "titleAngle": -90, "titleBaseline": "middle", "titleAlign": "center"}},
"color": {"field": "o", "type": "nominal", "scale": {"domain": ["2p"], "range": ["#ff0000"]},
 "legend": {"title": null, "orient": "none", "legendX": 665, "legendY": 49, "symbolSize": 81, "labelOffset": -5}}
}
},
{
"width": 763, "height": 232,
"data": {"name": "o2"},
"title": {"text": "PDOS O2", "anchor": "start", "frame": "group", "orient": "top", "offset": -31, "dx": 547, "dy": 42, "baseline": "middle"},
"mark": {"type": "line", "strokeWidth": 2, "clip": true},
"encoding": {
"x": {"field": "x", "type": "quantitative", "scale": {"domain": [-4.84, 5], "nice": false, "zero": false},
 "axis": {"values": [-4.8,-4.6,-4.4,-4.2,-4,-3.8,-3.6,-3.4,-3.2,-3,-2.8,-2.6,-2.4,-2.2,-2,-1.8,-1.6,-1.4,-1.2,-1,-0.8,-0.6,-0.4,-0.2,0,0.2,0.4,0.6,0.8,1,1.2,1.4,1.6,1.8,2,2.2,2.4,2.6,2.8,3,3.2,3.4,3.6,3.8,4,4.2,4.4,4.6,4.8,5], "labels": false, "title": null,
  "tickSize": {"condition": {"test": "abs(datum.value - round(datum.value)) < 0.001", "value": -8}, "value": -4}}},
"y": {"field": "y", "type": "quantitative", "scale": {"domain": [0, 2.9], "nice": false},
 "axis": {"values": [0.1,0.2,0.3,0.4,0.5,0.6,0.7,0.8,0.9,1,1.1,1.2,1.3,1.4,1.5,1.6,1.7,1.8,1.9,2,2.1,2.2,2.3,2.4,2.5,2.6,2.7,2.8,2.9],
  "tickSize": {"condition": {"test": "abs(datum.value*2 - round(datum.value*2)) < 0.001", "value": -28}, "value": -14},
  "labelPadding": 36, "labelFontSize": 22,
  "labelExpr": "abs(datum.value*2 - round(datum.value*2)) < 0.001 ? '' + datum.value : ''",
  "title": null}},
"color": {"field": "o", "type": "nominal", "scale": {"domain": ["2p"], "range": ["#ff0000"]},
 "legend": {"title": null, "orient": "none", "legendX": 665, "legendY": 47, "symbolSize": 81, "labelOffset": -5}}
}
},
{
"width": 763, "height": 231,
"data": {"name": "o3"},
"title": {"text": "PDOS O3", "anchor": "start", "frame": "group", "orient": "top", "offset": -31, "dx": 546, "dy": 41, "baseline": "middle"},
"mark": {"type": "line", "strokeWidth": 2, "clip": true},
"encoding": {
"x": {"field": "x", "type": "quantitative", "scale": {"domain": [-4.84, 5], "nice": false, "zero": false},
 "axis": {"values": [-4.8,-4.6,-4.4,-4.2,-4,-3.8,-3.6,-3.4,-3.2,-3,-2.8,-2.6,-2.4,-2.2,-2,-1.8,-1.6,-1.4,-1.2,-1,-0.8,-0.6,-0.4,-0.2,0,0.2,0.4,0.6,0.8,1,1.2,1.4,1.6,1.8,2,2.2,2.4,2.6,2.8,3,3.2,3.4,3.6,3.8,4,4.2,4.4,4.6,4.8,5], "labels": false, "title": null,
  "tickSize": {"condition": {"test": "abs(datum.value - round(datum.value)) < 0.001", "value": -8}, "value": -4}}},
"y": {"field": "y", "type": "quantitative", "scale": {"domain": [0, 2.9], "nice": false},
 "axis": {"values": [0.1,0.2,0.3,0.4,0.5,0.6,0.7,0.8,0.9,1,1.1,1.2,1.3,1.4,1.5,1.6,1.7,1.8,1.9,2,2.1,2.2,2.3,2.4,2.5,2.6,2.7,2.8,2.9],
  "tickSize": {"condition": {"test": "abs(datum.value*2 - round(datum.value*2)) < 0.001", "value": -28}, "value": -14},
  "labelPadding": 36, "labelFontSize": 22,
  "labelExpr": "abs(datum.value*2 - round(datum.value*2)) < 0.001 ? '' + datum.value : ''",
  "title": null}},
"color": {"field": "o", "type": "nominal", "scale": {"domain": ["2s","2p"], "range": ["#0000ff","#ff0000"]},
 "legend": {"title": null, "orient": "none", "legendX": 665, "legendY": 37, "symbolSize": 81, "labelOffset": -5, "rowPadding": 2}}
}
},
{
"width": 763, "height": 192,
"data": {"name": "o4"},
"title": {"text": "PDOS O4", "anchor": "start", "frame": "group", "orient": "top", "offset": -31, "dx": 543, "dy": 35, "baseline": "middle"},
"mark": {"type": "line", "strokeWidth": 2, "clip": true},
"encoding": {
"x": {"field": "x", "type": "quantitative", "scale": {"domain": [-4.84, 5], "nice": false, "zero": false},
 "axis": {"values": [-4.8,-4.6,-4.4,-4.2,-4,-3.8,-3.6,-3.4,-3.2,-3,-2.8,-2.6,-2.4,-2.2,-2,-1.8,-1.6,-1.4,-1.2,-1,-0.8,-0.6,-0.4,-0.2,0,0.2,0.4,0.6,0.8,1,1.2,1.4,1.6,1.8,2,2.2,2.4,2.6,2.8,3,3.2,3.4,3.6,3.8,4,4.2,4.4,4.6,4.8,5],
  "tickSize": {"condition": {"test": "abs(datum.value - round(datum.value)) < 0.001", "value": -8}, "value": -4},
  "labelPadding": 11,
  "labelOffset": {"condition": {"test": "datum.value < 0", "value": 4}, "value": 0},
  "labelExpr": "abs(datum.value - round(datum.value)) < 0.001 ? '' + round(datum.value) : ''",
  "title": "Energi (eV)", "titlePadding": 3, "titleFontSize": 23}},
"y": {"field": "y", "type": "quantitative", "scale": {"domain": [0, 2.9], "nice": false},
 "axis": {"values": [0,0.1,0.2,0.3,0.4,0.5,0.6,0.7,0.8,0.9,1,1.1,1.2,1.3,1.4,1.5,1.6,1.7,1.8,1.9,2,2.1,2.2,2.3,2.4,2.5,2.6,2.7,2.8,2.9],
  "tickSize": {"condition": {"test": "abs(datum.value*2 - round(datum.value*2)) < 0.001", "value": -28}, "value": -14},
  "labelPadding": 36, "labelFontSize": 22,
  "labelExpr": "abs(datum.value*2 - round(datum.value*2)) < 0.001 ? '' + datum.value : ''",
  "title": null}},
"color": {"field": "o", "type": "nominal", "scale": {"domain": ["2s","2p"], "range": ["#0000ff","#ff0000"]},
 "legend": {"title": null, "orient": "none", "legendX": 665, "legendY": 43, "symbolSize": 81, "labelOffset": -5, "rowPadding": 4}}
}
}
],
"spacing": 0,
"bounds": "flush",
"resolve": {"scale": {"x": "independent", "y": "independent", "color": "independent"}, "legend": {"color": "independent"}},
"config": {
"view": {"stroke": "#000000", "strokeWidth": 2},
"axis": {"grid": false, "domainColor": "#000000", "domainWidth": 2, "tickColor": "#000000", "tickWidth": 1.5,
 "labelFont": "Liberation Sans", "labelFontWeight": "bold", "labelFontSize": 21, "labelColor": "#000000",
 "titleFont": "Liberation Sans", "titleFontWeight": "bold", "titleFontSize": 21, "titleColor": "#000000",
 "labelOverlap": false, "labelFlush": false},
"legend": {"labelFont": "Liberation Sans", "labelFontWeight": "bold", "labelFontSize": 21, "labelColor": "#000000",
 "symbolType": "stroke", "symbolStrokeWidth": 2, "labelLimit": 0, "padding": 0},
"title": {"font": "Liberation Sans", "fontWeight": "bold", "fontSize": 21.5, "color": "#000000"}
}
}
